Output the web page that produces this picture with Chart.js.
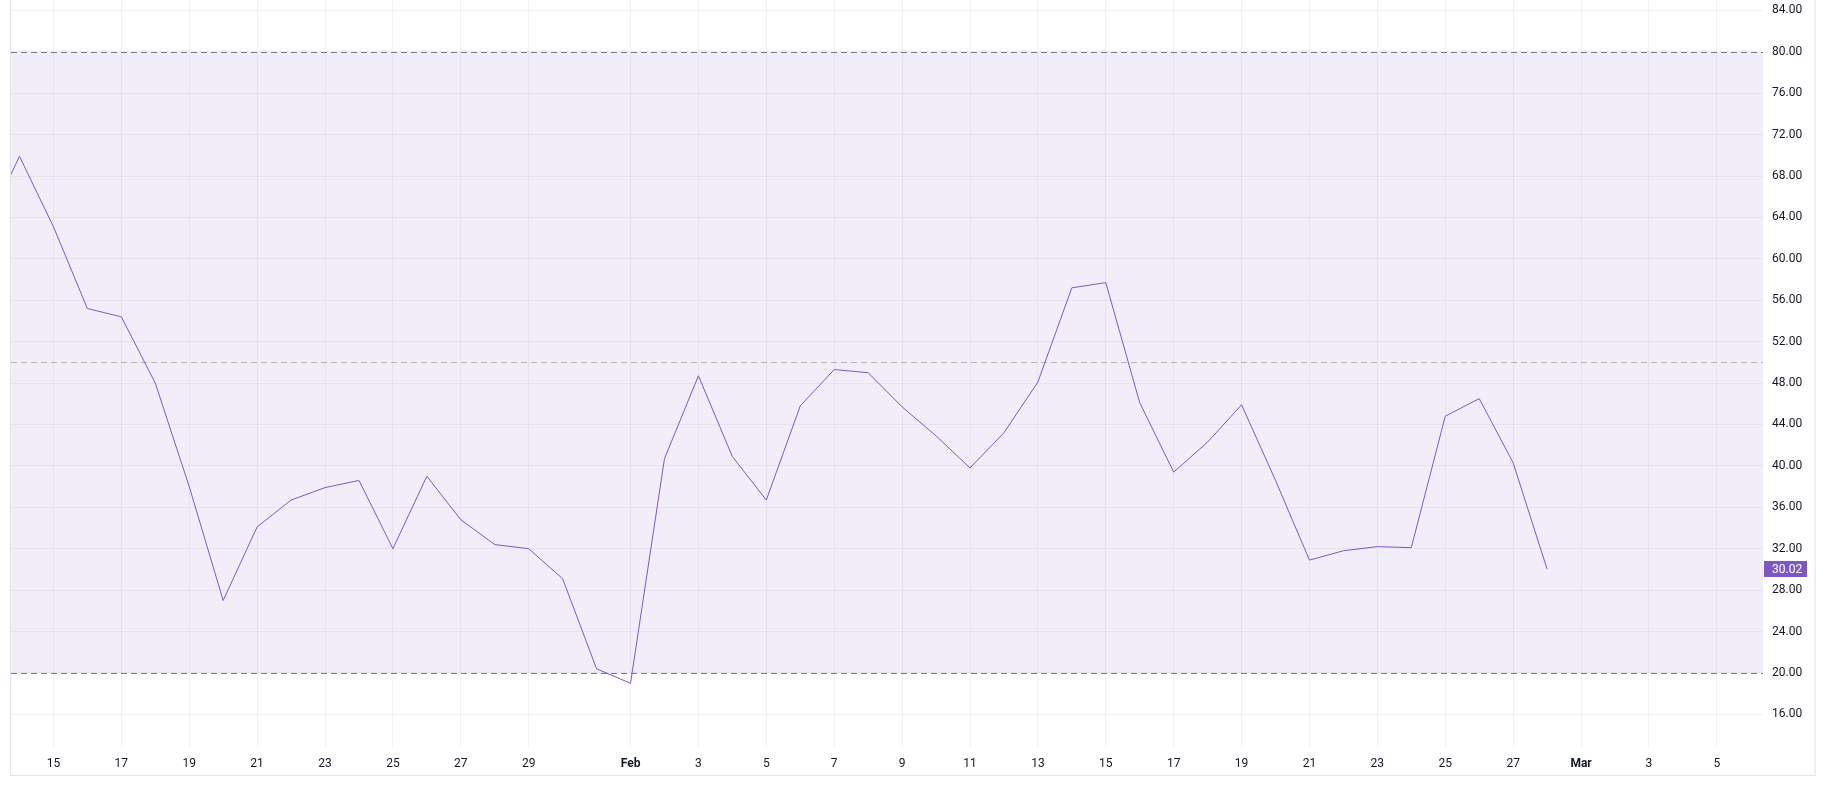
<!DOCTYPE html>
<html>
<head>
<meta charset="utf-8">
<script src="https://cdn.jsdelivr.net/npm/chart.js@4.4.1/dist/chart.umd.min.js"></script>
<style>
  html, body { margin: 0; padding: 0; background: #ffffff; }
  #wrap { width: 1825px; height: 788px; position: relative; }
</style>
</head>
<body>
<div id="wrap"><canvas id="rsiChart"></canvas></div>
<script>
// ===================== data =====================
const dates = [
  '01-13', '01-14', '01-15', '01-16', '01-17', '01-18', '01-19', '01-20', '01-21', '01-22',
  '01-23', '01-24', '01-25', '01-26', '01-27', '01-28', '01-29', '01-30', '01-31',
  '02-01', '02-02', '02-03', '02-04', '02-05', '02-06', '02-07', '02-08', '02-09', '02-10',
  '02-11', '02-12', '02-13', '02-14', '02-15', '02-16', '02-17', '02-18', '02-19', '02-20',
  '02-21', '02-22', '02-23', '02-24', '02-25', '02-26', '02-27', '02-28'
];

const rsiValues = [
  63.0, 69.9, 63.1, 55.2, 54.4, 48.0, 38.0, 27.0, 34.1, 36.7,
  37.9, 38.6, 32.0, 39.0, 34.8, 32.4, 32.0, 29.1, 20.4,
  19.0, 40.7, 48.7, 40.9, 36.7, 45.8, 49.3, 49.0, 45.7, 42.9,
  39.8, 43.2, 48.1, 57.2, 57.7, 46.1, 39.4, 42.3, 45.9, 38.6,
  30.9, 31.8, 32.2, 32.1, 44.8, 46.5, 40.3, 30.02
];

const xTickDates = [
  '01-15', '01-17', '01-19', '01-21', '01-23', '01-25', '01-27', '01-29',
  '02-01', '02-03', '02-05', '02-07', '02-09', '02-11', '02-13', '02-15', '02-17',
  '02-19', '02-21', '02-23', '02-25', '02-27', '03-01', '03-03', '03-05'
];
const monthNames = ['Jan', 'Feb', 'Mar'];

const yTicks = [16, 20, 24, 28, 32, 36, 40, 44, 48, 52, 56, 60, 64, 68, 72, 76, 80, 84];
const bandUpper = 80;
const bandMiddle = 50;
const bandLower = 20;

// visible window (day of year)
const xMin = 13.75;
const xMax = 65.36;
const yMin = 12.75;
const yMax = 85;

// ===================== helpers =====================
const monthStart = [0, 31, 59];
function dayOfYear(mmdd) {
  const [m, d] = mmdd.split('-').map(Number);
  return monthStart[m - 1] + d;
}
function dayLabel(day) {
  for (let m = monthStart.length - 1; m >= 0; m--) {
    if (day > monthStart[m]) {
      const d = day - monthStart[m];
      return d === 1 ? monthNames[m] : String(d);
    }
  }
  return '';
}

const points = dates.map((d, i) => ({ x: dayOfYear(d), y: rsiValues[i] }));
const xTickValues = xTickDates.map(dayOfYear);

const FONT = 'Roboto, "Liberation Sans", sans-serif';
const TEXT = '#131722';
const LINE = '#7e57c2';

// ===================== plugins =====================
const bandPlugin = {
  id: 'rsiBands',
  beforeDatasetsDraw(chart) {
    const { ctx, chartArea: a, scales: { y } } = chart;
    const top = y.getPixelForValue(bandUpper);
    const bottom = y.getPixelForValue(bandLower);
    ctx.save();
    ctx.fillStyle = 'rgba(126, 87, 194, 0.1)';
    ctx.fillRect(a.left, top, a.right - a.left, bottom - top);

    ctx.lineWidth = 1;
    ctx.setLineDash([6, 4]);
    [[bandUpper, '#787b86'], [bandMiddle, 'rgba(120, 123, 134, 0.5)'], [bandLower, '#787b86']].forEach(([v, c]) => {
      const py = Math.round(y.getPixelForValue(v)) + 0.5;
      ctx.strokeStyle = c;
      ctx.beginPath();
      ctx.moveTo(a.left, py);
      ctx.lineTo(a.right, py);
      ctx.stroke();
    });
    ctx.restore();
  },
  afterDraw(chart) {
    const { ctx, chartArea: a, scales: { y } } = chart;
    ctx.save();
    // outer frame
    ctx.strokeStyle = '#e0e3eb';
    ctx.lineWidth = 1;
    ctx.strokeRect(a.left - 0.5, -1, 1815.5 - a.left, 776.5);

    // last value label on the price scale
    const last = rsiValues[rsiValues.length - 1];
    const py = y.getPixelForValue(last);
    ctx.fillStyle = LINE;
    ctx.fillRect(a.right + 1, Math.round(py) - 8, 43, 16);
    ctx.fillStyle = '#ffffff';
    ctx.font = '12px ' + FONT;
    ctx.textBaseline = 'middle';
    ctx.textAlign = 'left';
    ctx.fillText(last.toFixed(2), a.right + 9, Math.round(py) + 0.5);
    ctx.restore();
  }
};

// ===================== chart =====================
function renderRsiChart() {
  const canvas = document.getElementById('rsiChart');
  if (!canvas) return;
  const ctx = canvas.getContext('2d');

  new Chart(ctx, {
    type: 'line',
    data: {
      datasets: [{
        label: 'RSI',
        data: points,
        borderColor: LINE,
        borderWidth: 1,
        pointRadius: 0,
        tension: 0,
        fill: false
      }]
    },
    options: {
      responsive: true,
      maintainAspectRatio: false,
      animation: false,
      layout: { padding: { left: 11, top: 0, right: 0, bottom: 0 } },
      plugins: {
        legend: { display: false },
        tooltip: { enabled: false }
      },
      scales: {
        x: {
          type: 'linear',
          min: xMin,
          max: xMax,
          afterFit: scale => {
            scale.height = 40;
            scale.paddingLeft = 0;
            scale.paddingRight = 0;
          },
          afterBuildTicks: scale => {
            scale.ticks = xTickValues.map(v => ({ value: v }));
          },
          border: { display: false },
          grid: {
            color: 'rgba(42, 46, 57, 0.06)',
            drawTicks: false
          },
          ticks: {
            autoSkip: false,
            maxRotation: 0,
            padding: 9,
            color: TEXT,
            font: c => ({
              family: FONT,
              size: 12,
              weight: (c.tick && isNaN(Number(dayLabel(c.tick.value)))) ? 'bold' : 'normal'
            }),
            callback: value => dayLabel(value)
          }
        },
        y: {
          position: 'right',
          min: yMin,
          max: yMax,
          afterFit: scale => {
            scale.width = 62;
            scale.paddingTop = 0;
            scale.paddingBottom = 0;
          },
          afterBuildTicks: scale => {
            scale.ticks = yTicks.map(v => ({ value: v }));
          },
          border: { display: false },
          grid: {
            color: 'rgba(42, 46, 57, 0.06)',
            drawTicks: false
          },
          ticks: {
            padding: 9,
            crossAlign: 'near',
            color: TEXT,
            font: { family: FONT, size: 12 },
            callback: value => Number(value).toFixed(2)
          }
        }
      }
    },
    plugins: [bandPlugin]
  });
}

document.addEventListener('DOMContentLoaded', () => {
  renderRsiChart();
});
</script>
</body>
</html>
